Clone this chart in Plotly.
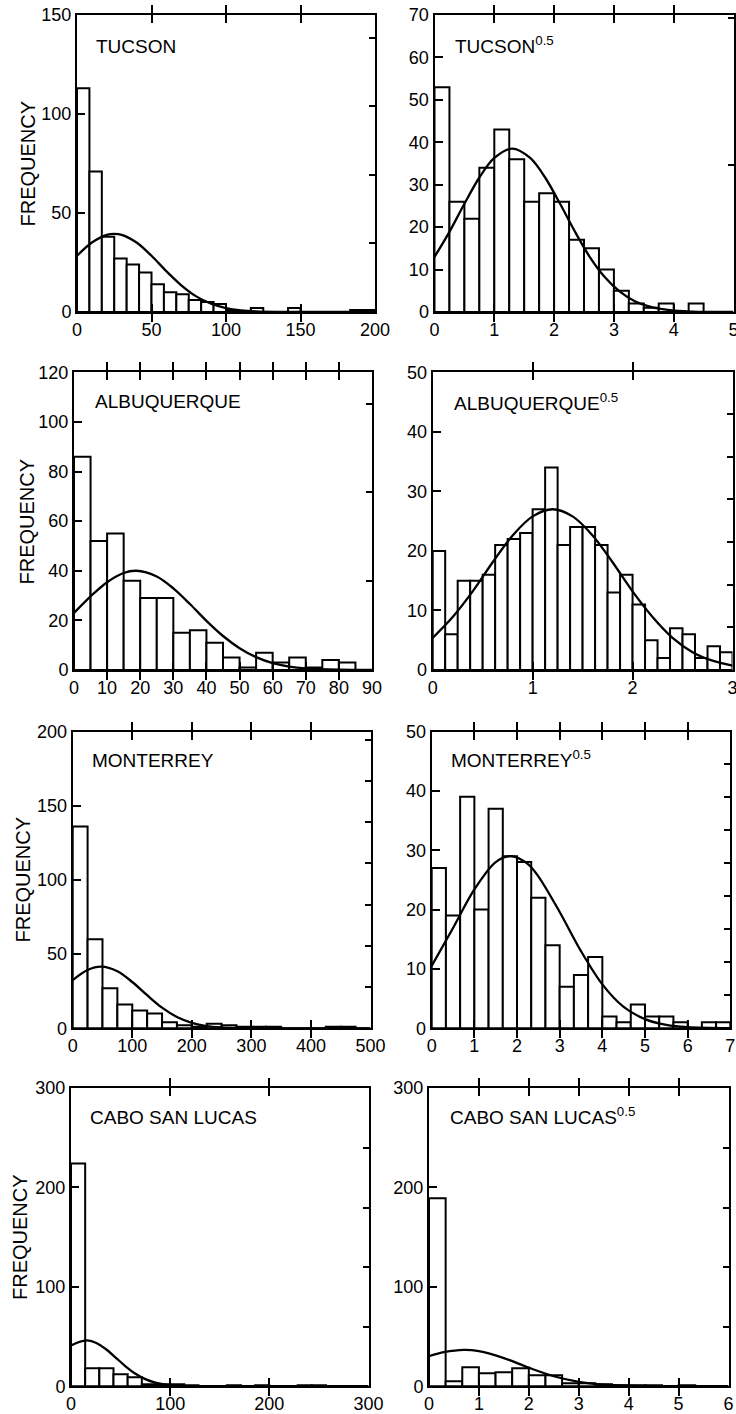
import plotly.graph_objects as go

W, H = 736, 1414

# ---------------- data ----------------
tucson_bin_width = 200 / 24
tucson_counts = [113, 71, 38, 27, 24, 20, 14, 10, 9, 6, 5, 4, 1, 0, 2, 0, 0, 2, 0, 0, 0, 0, 1, 1]
tucson_curve_x = [0, 10, 20, 25, 30, 40, 50, 60, 70, 80, 90, 100, 110, 120, 140, 160, 200]
tucson_curve_y = [28.4, 35.1, 39.0, 39.5, 39.0, 35.1, 28.4, 20.6, 13.5, 7.9, 4.2, 2.0, 0.85, 0.33, 0.03, 0, 0]

tucson_sqrt_bin_width = 0.25
tucson_sqrt_counts = [53, 26, 22, 34, 43, 36, 26, 28, 26, 17, 15, 10, 5, 2, 1, 2, 0, 2]
tucson_sqrt_curve_x = [0, 0.25, 0.5, 0.75, 1.0, 1.3, 1.6, 1.85, 2.1, 2.35, 2.6, 2.85, 3.1, 3.35, 3.6, 3.9, 4.3, 5.0]
tucson_sqrt_curve_y = [13.0, 18.9, 25.5, 31.7, 36.3, 38.5, 36.3, 31.7, 25.5, 18.9, 12.9, 8.2, 4.8, 2.55, 1.27, 0.49, 0.11, 0]

albuq_bin_width = 5
albuq_counts = [86, 52, 55, 36, 29, 29, 15, 16, 11, 5, 1, 7, 3, 5, 1, 4, 3]
albuq_curve_x = [0, 5, 10, 15, 18.8, 25, 30, 35, 40, 45, 50, 55, 60, 65, 70, 80, 90]
albuq_curve_y = [23.0, 29.7, 35.4, 39.1, 40.0, 37.7, 32.9, 26.6, 19.8, 13.7, 8.8, 5.2, 2.8, 1.4, 0.67, 0.12, 0]

albuq_sqrt_bin_width = 0.125
albuq_sqrt_counts = [20, 6, 15, 15, 16, 21, 22, 23, 27, 34, 21, 24, 24, 21, 13, 16, 11, 5, 2, 7, 6, 2, 4, 3]
albuq_sqrt_curve_x = [0, 0.2, 0.4, 0.6, 0.8, 1.0, 1.2, 1.4, 1.6, 1.8, 2.0, 2.2, 2.4, 2.6, 2.8, 3.0]
albuq_sqrt_curve_y = [5.4, 8.9, 13.2, 18.1, 22.6, 25.8, 27.0, 25.8, 22.6, 18.1, 13.2, 8.9, 5.4, 3.0, 1.56, 0.72]

monte_bin_width = 25
monte_counts = [136, 60, 27, 16, 12, 10, 4, 2, 1, 3, 2, 1, 1, 1, 0, 0, 0, 1, 1, 0]
monte_curve_x = [0, 25, 48, 75, 100, 125, 150, 175, 200, 225, 250, 275, 300, 350, 500]
monte_curve_y = [32.5, 39.3, 41.5, 38.4, 31.2, 22.3, 13.9, 7.6, 3.7, 1.5, 0.57, 0.19, 0.05, 0, 0]

monte_sqrt_bin_width = 1 / 3
monte_sqrt_counts = [27, 19, 39, 20, 37, 29, 28, 22, 14, 7, 9, 12, 2, 1, 4, 2, 2, 1, 0, 1, 1]
monte_sqrt_curve_x = [0, 0.5, 1.0, 1.5, 1.85, 2.25, 2.5, 3.0, 3.5, 4.0, 4.5, 5.0, 5.5, 6.0, 7.0]
monte_sqrt_curve_y = [10.5, 16.9, 23.4, 28.0, 29.0, 27.7, 25.6, 19.6, 13.0, 7.4, 3.6, 1.54, 0.56, 0.18, 0.01]

cabo_bin_width = 300 / 21
cabo_counts = [224, 18, 18, 12, 9, 2, 2, 2, 1, 0, 0, 1, 0, 1, 0, 0, 1, 1, 0, 0, 0]
cabo_curve_x = [0, 15, 25, 35, 45, 55, 65, 75, 85, 95, 110, 130, 160, 300]
cabo_curve_y = [40.9, 46.0, 43.7, 37.4, 28.8, 20.0, 12.5, 7.1, 3.6, 1.6, 0.42, 0.05, 0, 0]

cabo_sqrt_bin_width = 1 / 3
cabo_sqrt_counts = [189, 5, 19, 13, 14, 18, 11, 11, 3, 3, 2, 1, 1, 1, 0, 1, 0, 0]
cabo_sqrt_curve_x = [0, 0.3, 0.7, 1.0, 1.5, 2.0, 2.5, 3.0, 3.5, 4.0, 4.5, 5.0, 6.0]
cabo_sqrt_curve_y = [30.2, 34.2, 36.5, 35.2, 28.3, 18.6, 10.0, 4.4, 1.6, 0.48, 0.12, 0.02, 0]

# sample sizes (used for right-hand proportion axis)
n_tucson, n_albuq, n_monte, n_cabo = 346, 358, 278, 299

titles = ["TUCSON", "TUCSON<sup>0.5</sup>", "ALBUQUERQUE", "ALBUQUERQUE<sup>0.5</sup>",
          "MONTERREY", "MONTERREY<sup>0.5</sup>", "CABO SAN LUCAS", "CABO SAN LUCAS<sup>0.5</sup>"]

# ---------------- panel layout (pixels) ----------------
panels = [
    dict(bw=tucson_bin_width, counts=tucson_counts, cx=tucson_curve_x, cy=tucson_curve_y,
         xr=200, xd=50, yr=150, yd=50, n=n_tucson, pd=0.1,
         box=(77, 375, 15, 312), tpos=(94, 46), fq=(27, 163.5)),
    dict(bw=tucson_sqrt_bin_width, counts=tucson_sqrt_counts, cx=tucson_sqrt_curve_x, cy=tucson_sqrt_curve_y,
         xr=5, xd=1, yr=70, yd=10, n=n_tucson, pd=0.1,
         box=(434.5, 733.5, 15, 312), tpos=(452.7, 46), fq=None),
    dict(bw=albuq_bin_width, counts=albuq_counts, cx=albuq_curve_x, cy=albuq_curve_y,
         xr=90, xd=10, yr=120, yd=20, n=n_albuq, pd=0.1,
         box=(74, 372, 372.3, 670), tpos=(92.7, 402), fq=(26, 521.5)),
    dict(bw=albuq_sqrt_bin_width, counts=albuq_sqrt_counts, cx=albuq_sqrt_curve_x, cy=albuq_sqrt_curve_y,
         xr=3, xd=1, yr=50, yd=10, n=n_albuq, pd=0.02,
         box=(432.7, 732.5, 372.3, 670), tpos=(451.7, 403), fq=None),
    dict(bw=monte_bin_width, counts=monte_counts, cx=monte_curve_x, cy=monte_curve_y,
         xr=500, xd=100, yr=200, yd=50, n=n_monte, pd=0.1,
         box=(72.7, 370.5, 731.5, 1028.3), tpos=(90, 760), fq=(22, 879.5)),
    dict(bw=monte_sqrt_bin_width, counts=monte_sqrt_counts, cx=monte_sqrt_curve_x, cy=monte_sqrt_curve_y,
         xr=7, xd=1, yr=50, yd=10, n=n_monte, pd=0.02,
         box=(431.7, 730.3, 731.5, 1028.3), tpos=(449, 760), fq=None),
    dict(bw=cabo_bin_width, counts=cabo_counts, cx=cabo_curve_x, cy=cabo_curve_y,
         xr=300, xd=100, yr=300, yd=100, n=n_cabo, pd=0.2,
         box=(71, 368.5, 1087.8, 1386.2), tpos=(88, 1117), fq=(19.5, 1237.5)),
    dict(bw=cabo_sqrt_bin_width, counts=cabo_sqrt_counts, cx=cabo_sqrt_curve_x, cy=cabo_sqrt_curve_y,
         xr=6, xd=1, yr=300, yd=100, n=n_cabo, pd=0.2,
         box=(429, 728.5, 1087.8, 1386.2), tpos=(447.7, 1117), fq=None),
]

FONT = "Liberation Sans, Arial, Helvetica, sans-serif"
fig = go.Figure()
layout = dict(
    width=W, height=H, margin=dict(l=0, r=0, t=0, b=0, pad=0, autoexpand=False),
    paper_bgcolor="white", plot_bgcolor="white", showlegend=False,
    font=dict(family=FONT, size=18, color="black"),
    annotations=[],
)

for i, p in enumerate(panels):
    k = i + 1
    ks = "" if k == 1 else str(k)
    sk = str(k + 8)
    x0, x1, y0, y1 = p["box"]
    xa, ya, ya2 = "x" + ks, "y" + ks, "y" + sk

    lefts = [j * p["bw"] for j in range(len(p["counts"]))]
    fig.add_trace(go.Bar(
        x=lefts, y=p["counts"], width=p["bw"], offset=0,
        marker=dict(color="white", line=dict(color="black", width=2)),
        xaxis=xa, yaxis=ya, hoverinfo="skip"))
    fig.add_trace(go.Scatter(
        x=p["cx"], y=p["cy"], mode="lines",
        line=dict(color="black", width=2.3, shape="spline", smoothing=0.9),
        xaxis=xa, yaxis=ya, hoverinfo="skip"))
    # dummy trace for right-hand proportion axis
    fig.add_trace(go.Scatter(x=[0], y=[0], mode="markers", marker=dict(opacity=0),
                             xaxis=xa, yaxis=ya2, hoverinfo="skip"))

    layout["xaxis" + ks] = dict(
        domain=[x0 / W, x1 / W], anchor=ya, range=[0, p["xr"]], automargin=False,
        tickmode="linear", tick0=0, dtick=p["xd"], ticklabeloverflow="allow",
        ticks="inside", ticklen=8, tickwidth=2, tickcolor="black",
        mirror="allticks", showline=True, linewidth=2, linecolor="black",
        showgrid=False, zeroline=False, tickfont=dict(size=18, family=FONT),
        fixedrange=True)
    layout["yaxis" + ks] = dict(
        domain=[1 - y1 / H, 1 - y0 / H], anchor=xa, range=[0, p["yr"]], automargin=False,
        tickmode="linear", tick0=0, dtick=p["yd"], ticklabeloverflow="allow",
        ticks="inside", ticklen=8, tickwidth=2, tickcolor="black",
        mirror=True, showline=True, linewidth=2, linecolor="black",
        showgrid=False, zeroline=False, tickfont=dict(size=18, family=FONT),
        ticklabelstandoff=0, fixedrange=True)
    layout["yaxis" + sk] = dict(
        overlaying=ya, side="right", anchor=xa, range=[0, p["yr"] / p["n"]], automargin=False,
        tickmode="linear", tick0=0, dtick=p["pd"],
        ticks="inside", ticklen=6, tickwidth=2, tickcolor="black",
        showticklabels=False, showline=False, showgrid=False, zeroline=False,
        fixedrange=True)

    tx, ty = p["tpos"]
    sup_shift = 1 if "<sup>" in titles[i] else 0
    layout["annotations"].append(dict(
        text=titles[i], xref="paper", yref="paper",
        x=tx / W, y=1 - (ty - sup_shift) / H, xanchor="left", yanchor="middle",
        showarrow=False, font=dict(size=19, family=FONT, color="black")))
    if p["fq"] is not None:
        fx, fy = p["fq"]
        layout["annotations"].append(dict(
            text="FREQUENCY", xref="paper", yref="paper",
            x=fx / W, y=1 - fy / H, xanchor="center", yanchor="middle",
            textangle=-90, showarrow=False,
            font=dict(size=20, family=FONT, color="black")))

fig.update_layout(**layout)
fig.write_html("out.html",
               config={"displayModeBar": False, "staticPlot": True},
               post_script="document.body.style.margin='0px';document.body.style.padding='0px';")
